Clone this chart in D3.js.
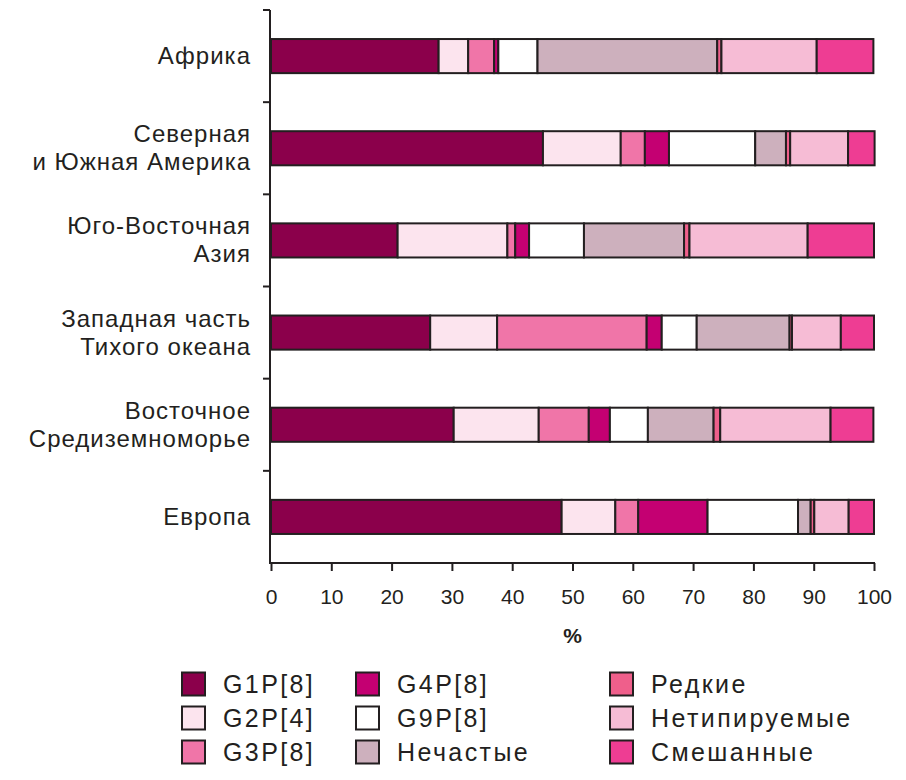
<!DOCTYPE html>
<html>
  <head>
    <meta charset="utf-8" />
    <title>Rotavirus genotypes by region</title>
    <script src="https://d3js.org/d3.v7.min.js"></script>
    <style>
      body { margin: 0; background: #fff; font-family: "Liberation Sans", Arial, sans-serif; }
      .axis text { font-size: 21px; fill: #231f20; font-family: "Liberation Sans", Arial, sans-serif; }
      .axis path, .axis line { stroke: #231f20; stroke-width: 2px; }
    </style>
  </head>
  <body>
    <svg id="chart" width="906" height="780"></svg>
    <script>
      // Regions (top to bottom), two-line labels split with "\n"
      const regions = [
        'Африка',
        'Северная\nи Южная Америка',
        'Юго-Восточная\nАзия',
        'Западная часть\nТихого океана',
        'Восточное\nСредиземноморье',
        'Европа'
      ];
      const genotypes = ['G1P[8]', 'G2P[4]', 'G3P[8]', 'G4P[8]', 'G9P[8]',
                         'Нечастые', 'Редкие', 'Нетипируемые', 'Смешанные'];
      const colors = ['#8b004b', '#fce4ee', '#f075a8', '#c40072', '#ffffff',
                      '#cdb0bd', '#ef5f8b', '#f6bcd5', '#ee3d93'];

      // share (%) of each genotype, one array per genotype, in region order
      const g1p8       = [27.8, 45.1, 21.0, 26.4, 30.3, 48.2];
      const g2p4       = [4.9, 12.9, 18.2, 11.1, 14.1, 8.9];
      const g3p8       = [4.3, 4.0, 1.3, 24.8, 8.3, 3.8];
      const g4p8       = [0.7, 4.0, 2.3, 2.5, 3.5, 11.5];
      const g9p8       = [6.5, 14.3, 9.1, 5.8, 6.3, 15.0];
      const uncommon   = [29.8, 5.1, 16.6, 15.4, 10.9, 2.1];
      const rare       = [0.7, 0.7, 0.9, 0.4, 1.1, 0.6];
      const nontypable = [15.8, 9.6, 19.6, 8.1, 18.3, 5.7];
      const mixed      = [9.4, 4.4, 11.0, 5.5, 7.1, 4.2];

      const xTicks = [0, 10, 20, 30, 40, 50, 60, 70, 80, 90, 100];

      const series = [g1p8, g2p4, g3p8, g4p8, g9p8, uncommon, rare, nontypable, mixed];
      const data = regions.map((r, i) => {
        const row = { region: r };
        genotypes.forEach((g, j) => { row[g] = series[j][i]; });
        return row;
      });

      const margin = { top: 10, right: 32, bottom: 217, left: 271 };
      const width = 906, height = 780;
      const svg = d3.select('#chart');

      const x = d3.scaleLinear()
                  .domain([0, 100])
                  .range([margin.left, width - margin.right]);
      const y = d3.scaleBand()
                  .domain(regions)
                  .range([margin.top, height - margin.bottom])
                  .paddingInner(0.63)
                  .paddingOuter(0.315);
      const color = d3.scaleOrdinal().domain(genotypes).range(colors);

      const stacked = d3.stack().keys(genotypes)(data);

      // bars
      svg.append('g')
        .selectAll('g')
        .data(stacked)
        .join('g')
          .attr('fill', d => color(d.key))
        .selectAll('rect')
        .data(d => d)
        .join('rect')
          .attr('x', d => x(d[0]))
          .attr('y', d => y(d.data.region))
          .attr('width', d => x(d[1]) - x(d[0]))
          .attr('height', y.bandwidth())
          .attr('stroke', '#231f20')
          .attr('stroke-width', 2);

      // x axis
      const xAxis = svg.append('g')
        .attr('class', 'axis')
        .attr('transform', `translate(0, ${height - margin.bottom})`)
        .call(d3.axisBottom(x).tickValues(xTicks).tickSize(8).tickSizeOuter(8).tickPadding(18));
      xAxis.select('.domain').attr('d', `M${x(0) - 1},0H${x(100) + 1}`);

      svg.append('text')
        .attr('x', (x(0) + x(100)) / 2)
        .attr('y', 643)
        .attr('text-anchor', 'middle')
        .attr('font-size', 21)
        .attr('font-weight', 'bold')
        .attr('fill', '#231f20')
        .text('%');

      // y axis: line with ticks between the bands
      const yAxis = svg.append('g').attr('class', 'axis');
      yAxis.append('line')
        .attr('x1', x(0) - 1).attr('x2', x(0) - 1)
        .attr('y1', margin.top).attr('y2', height - margin.bottom + 1);
      const step = y.step();
      const boundaries = d3.range(regions.length).map(i => y(regions[i]) - step * y.paddingInner() / 2);
      yAxis.selectAll('.ytick')
        .data(boundaries)
        .join('line')
          .attr('class', 'ytick')
          .attr('x1', x(0) - 8).attr('x2', x(0) - 1)
          .attr('y1', d => d).attr('y2', d => d);
      yAxis.append('line')
        .attr('x1', x(0) - 8).attr('x2', x(0) - 1)
        .attr('y1', margin.top).attr('y2', margin.top);

      // category labels
      const labels = svg.append('g')
        .selectAll('text')
        .data(regions)
        .join('text')
          .attr('text-anchor', 'end')
          .attr('font-size', 24)
          .attr('letter-spacing', 1)
          .attr('fill', '#231f20')
          .attr('transform', d => `translate(251, ${y(d) + y.bandwidth() / 2})`);
      labels.each(function (d) {
        const lines = d.split('\n');
        const t = d3.select(this);
        lines.forEach((ln, k) => {
          t.append('tspan')
            .attr('x', 0)
            .attr('y', (k - (lines.length - 1) / 2) * 28 + 8)
            .text(ln);
        });
      });

      // legend (3 columns x 3 rows)
      const legendCols = [182, 356, 610];
      const legendRows = [684, 718, 752];
      const legend = svg.append('g')
        .selectAll('g')
        .data(genotypes)
        .join('g')
          .attr('transform', (d, i) => `translate(${legendCols[Math.floor(i / 3)]}, ${legendRows[i % 3]})`);
      legend.append('rect')
        .attr('x', 0).attr('y', -11.5)
        .attr('width', 23).attr('height', 23)
        .attr('fill', d => color(d))
        .attr('stroke', '#231f20')
        .attr('stroke-width', 2);
      legend.append('text')
        .attr('x', 41).attr('y', 9)
        .attr('font-size', 25)
        .attr('letter-spacing', 2.4)
        .attr('fill', '#231f20')
        .text(d => d);
    </script>
  </body>
</html>
